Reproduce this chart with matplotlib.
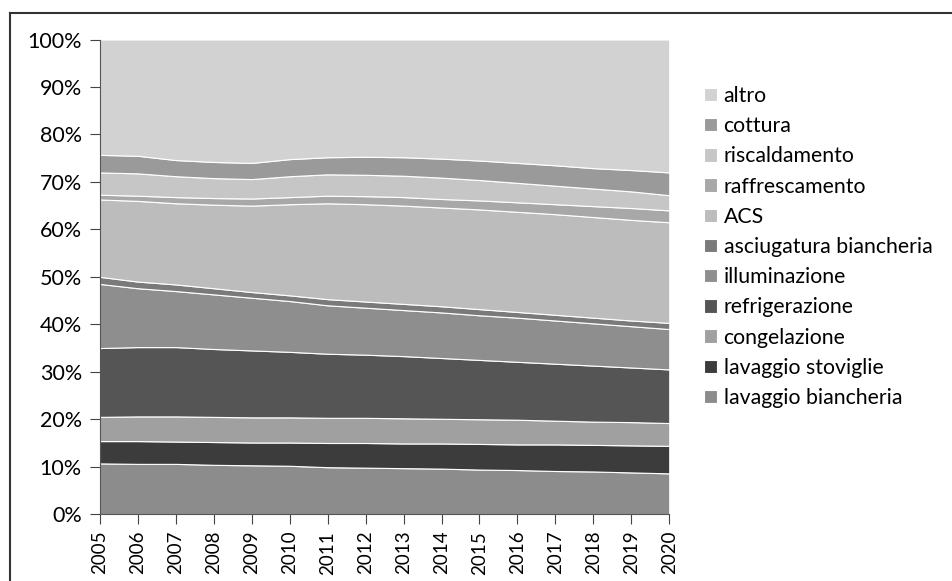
import matplotlib
matplotlib.use("Agg")
import matplotlib.pyplot as plt
from matplotlib.lines import Line2D
import numpy as np

plt.rcParams['font.family'] = ['Lato', 'DejaVu Sans']

years = list(range(2005, 2021))

# quote percentuali per uso finale (dal basso verso l'alto)
lavaggio_biancheria = [10.7, 10.6, 10.6, 10.4, 10.3, 10.2, 9.9, 9.8, 9.7, 9.6, 9.4, 9.3, 9.1, 9.0, 8.8, 8.6]
lavaggio_stoviglie = [4.7, 4.8, 4.7, 4.8, 4.8, 4.9, 5.1, 5.2, 5.2, 5.3, 5.4, 5.4, 5.6, 5.6, 5.7, 5.8]
congelazione = [5.1, 5.2, 5.3, 5.3, 5.3, 5.3, 5.3, 5.3, 5.3, 5.2, 5.2, 5.2, 5.0, 4.9, 4.9, 4.8]
refrigerazione = [14.5, 14.6, 14.6, 14.3, 14.1, 13.8, 13.5, 13.3, 13.1, 12.8, 12.5, 12.2, 12.0, 11.8, 11.5, 11.3]
illuminazione = [13.5, 12.4, 11.8, 11.5, 11.1, 10.7, 10.2, 9.9, 9.7, 9.6, 9.4, 9.3, 9.1, 8.9, 8.7, 8.5]
asciugatura = [1.5, 1.4, 1.4, 1.3, 1.2, 1.2, 1.3, 1.3, 1.3, 1.3, 1.3, 1.2, 1.2, 1.2, 1.2, 1.3]
acs = [16.3, 17.0, 17.1, 17.6, 18.2, 19.2, 20.2, 20.5, 20.7, 20.8, 21.0, 21.1, 21.2, 21.2, 21.2, 21.2]
raffrescamento = [1.0, 1.1, 1.3, 1.4, 1.5, 1.5, 1.6, 1.7, 1.8, 1.8, 1.9, 2.0, 2.1, 2.3, 2.5, 2.5]
riscaldamento = [4.7, 4.7, 4.4, 4.2, 4.1, 4.4, 4.5, 4.5, 4.5, 4.5, 4.3, 4.1, 3.9, 3.7, 3.5, 3.2]
cottura = [3.7, 3.7, 3.4, 3.4, 3.4, 3.6, 3.6, 3.8, 3.9, 4.0, 4.1, 4.2, 4.3, 4.3, 4.5, 4.8]
altro = [24.3, 24.5, 25.4, 25.8, 26.0, 25.2, 24.8, 24.7, 24.8, 25.1, 25.5, 26.0, 26.5, 27.1, 27.5, 28.0]

labels = ['lavaggio biancheria', 'lavaggio stoviglie', 'congelazione', 'refrigerazione',
          'illuminazione', 'asciugatura biancheria', 'ACS', 'raffrescamento',
          'riscaldamento', 'cottura', 'altro']
series = [lavaggio_biancheria, lavaggio_stoviglie, congelazione, refrigerazione,
          illuminazione, asciugatura, acs, raffrescamento, riscaldamento, cottura, altro]
colors = ['#8c8c8c', '#3c3c3c', '#a0a0a0', '#555555', '#8e8e8e', '#7a7a7a',
          '#bcbcbc', '#a8a8a8', '#c6c6c6', '#9a9a9a', '#d2d2d2']

data = np.array(series, dtype=float)
data = data / data.sum(axis=0) * 100

fig = plt.figure(figsize=(9.52, 5.81), dpi=100)
ax = fig.add_axes([0.105, 0.115, 0.598, 0.817])

polys = ax.stackplot(years, data, colors=colors, labels=labels,
                     edgecolor='white', linewidth=0.8)

ax.set_xlim(2005, 2020)
ax.set_ylim(0, 100)
ax.set_xticks(years)
ax.set_xticklabels([str(y) for y in years], rotation=90, fontsize=13.5)
ax.set_yticks(range(0, 101, 10))
ax.set_yticklabels([f'{v}%' for v in range(0, 101, 10)], fontsize=15.5)
ax.tick_params(axis='both', direction='out', length=7, color='#444444')
ax.tick_params(axis='y', pad=6)
ax.tick_params(axis='x', pad=5)

for s in ['top', 'right']:
    ax.spines[s].set_visible(False)
for s in ['left', 'bottom']:
    ax.spines[s].set_color('#555555')

handles, labs = ax.get_legend_handles_labels()
leg = fig.legend(handles[::-1], labs[::-1], loc='upper left',
                 bbox_to_anchor=(0.740, 0.852), frameon=False, fontsize=15.3,
                 handlelength=0.6, handleheight=0.6, handletextpad=0.3,
                 labelspacing=0.48, borderpad=0, borderaxespad=0)

# cornice esterna (scansione)
fig.add_artist(Line2D([10 / 952, 1], [1 - 13 / 581, 1 - 13 / 581], color='#333333', lw=1.5))
fig.add_artist(Line2D([10 / 952, 10 / 952], [0, 1 - 13 / 581], color='#333333', lw=1.5))

fig.savefig('out.png', dpi=100)
